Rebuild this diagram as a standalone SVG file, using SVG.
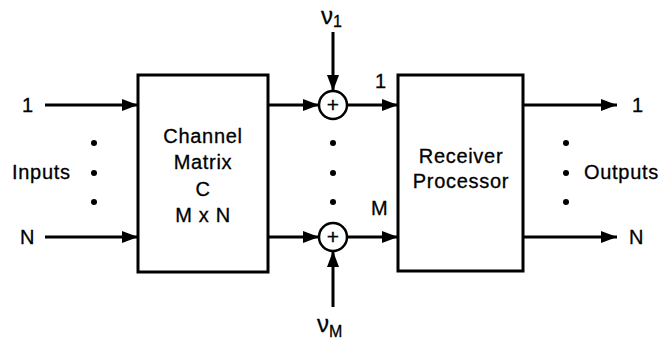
<svg xmlns="http://www.w3.org/2000/svg" width="671" height="342" viewBox="0 0 671 342">
<style>
text{font-family:"Liberation Sans",Arial,sans-serif;font-size:20px;fill:#000;stroke:#000;stroke-width:0.3;letter-spacing:0.7px}
.c{text-anchor:middle}
.box{fill:#fff;stroke:#000;stroke-width:3}
.ln{stroke:#000;stroke-width:3;fill:none}
.sum{fill:#fff;stroke:#000;stroke-width:2.5}
.nu{font-size:24px;letter-spacing:0}
.sub{font-size:16px;letter-spacing:0}
.plus{font-size:21px;letter-spacing:0}
</style>
<defs>
<marker id="ah" viewBox="0 0 16 12" refX="16" refY="6" markerWidth="16" markerHeight="12" markerUnits="userSpaceOnUse" orient="auto">
<path d="M0,0 L16,6 L0,12 Z" fill="#000"/>
</marker>
</defs>
<rect width="671" height="342" fill="#fff"/>
<g id="connectors">
<line class="ln" x1="45" y1="105" x2="138" y2="105" marker-end="url(#ah)"/>
<line class="ln" x1="45" y1="237" x2="138" y2="237" marker-end="url(#ah)"/>
<line class="ln" x1="268" y1="105" x2="319" y2="105" marker-end="url(#ah)"/>
<line class="ln" x1="268" y1="237" x2="319" y2="237" marker-end="url(#ah)"/>
<line class="ln" x1="333" y1="32" x2="333" y2="91" marker-end="url(#ah)"/>
<line class="ln" x1="333" y1="307" x2="333" y2="251" marker-end="url(#ah)"/>
<line class="ln" x1="347" y1="105" x2="398" y2="105" marker-end="url(#ah)"/>
<line class="ln" x1="347" y1="237" x2="398" y2="237" marker-end="url(#ah)"/>
<line class="ln" x1="523" y1="105" x2="617" y2="105" marker-end="url(#ah)"/>
<line class="ln" x1="523" y1="237" x2="617" y2="237" marker-end="url(#ah)"/>
</g>
<g id="channel">
<rect class="box" x="138" y="75" width="130" height="197"/>
<text class="c" x="203" y="143">Channel</text>
<text class="c" x="203" y="169">Matrix</text>
<text class="c" x="203" y="196">C</text>
<text class="c" x="203" y="222">M x N</text>
</g>
<g id="receiver">
<rect class="box" x="398" y="75" width="125" height="196"/>
<text class="c" x="461" y="163">Receiver</text>
<text class="c" x="461" y="188">Processor</text>
</g>
<g id="sum1">
<circle class="sum" cx="333" cy="105" r="14"/>
<text class="c plus" x="333" y="112">+</text>
</g>
<g id="sumM">
<circle class="sum" cx="333" cy="237" r="14"/>
<text class="c plus" x="333" y="244">+</text>
</g>
<g id="labels">
<text x="22" y="112">1</text>
<text x="20" y="244">N</text>
<text x="12" y="179">Inputs</text>
<circle cx="94" cy="143" r="3"/>
<circle cx="94" cy="173" r="3"/>
<circle cx="94" cy="202" r="3"/>
<circle cx="333" cy="143" r="3"/>
<circle cx="333" cy="173" r="3"/>
<circle cx="333" cy="202" r="3"/>
<circle cx="566" cy="143" r="3"/>
<circle cx="566" cy="173" r="3"/>
<circle cx="566" cy="202" r="3"/>
<text x="584" y="179">Outputs</text>
<text x="632" y="112">1</text>
<text x="629" y="244">N</text>
<text x="375" y="88">1</text>
<text x="371" y="215">M</text>
<text class="nu" x="321" y="24">ν<tspan class="sub" dy="3">1</tspan></text>
<text class="nu" x="317" y="332">ν<tspan class="sub" dy="5">M</tspan></text>
</g>
</svg>
